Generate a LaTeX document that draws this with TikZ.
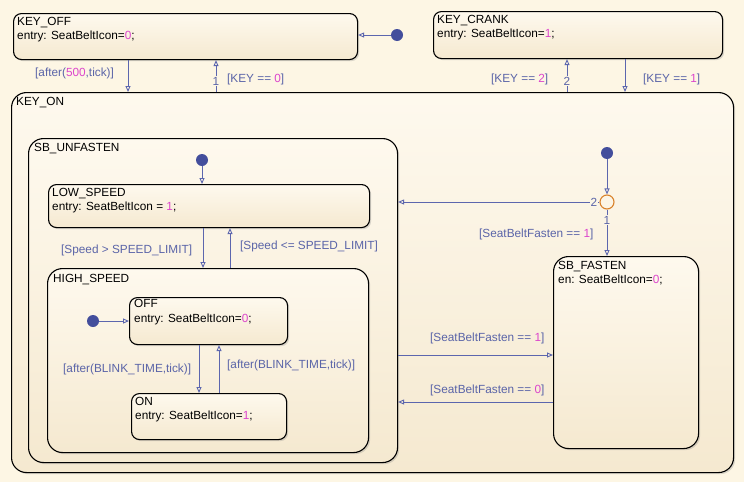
\documentclass[tikz,border=0pt]{standalone}
\usepackage{fontspec}
\setmainfont{Liberation Sans}
\usetikzlibrary{arrows.meta,shadows}
\definecolor{bg}{HTML}{FDF6E4}
\definecolor{stTop}{HTML}{FEF9EE}
\definecolor{stBot}{HTML}{F5E9D0}
\definecolor{trc}{HTML}{5C66AE}
\definecolor{lblc}{HTML}{5A64A8}
\definecolor{mag}{HTML}{DC45CC}
\definecolor{dotc}{HTML}{434E9C}
\definecolor{junc}{HTML}{D9822B}
\newcommand{\mg}[1]{\textcolor{mag}{#1}}
\begin{document}
\begin{tikzpicture}[x=1pt,y=-1pt,
  txt/.style={font=\fontsize{11.8}{14}\selectfont, inner sep=0pt, anchor=base west, text=black},
  lbl/.style={txt, text=lblc},
  prio/.style={font=\fontsize{11.8}{14}\selectfont, inner sep=0.6pt, text=lblc},
  st/.style={draw=black, line width=1.1pt, rounded corners=8pt, top color=stTop, bottom color=stBot,
    drop shadow={shadow xshift=1.6pt, shadow yshift=-1.6pt, opacity=0.28}, inner sep=0pt, anchor=north west},
  bigst/.style={st, rounded corners=15pt},
  tr/.style={draw=trc, line width=0.9pt, -{Triangle[open, length=6pt, width=5pt]}},
  initdot/.style={circle, fill=dotc, minimum size=12pt, inner sep=0pt},
  junction/.style={circle, draw=junc, line width=1.1pt, fill=stTop!75!stBot, minimum size=14pt, inner sep=0pt},
]
\useasboundingbox (0,0) rectangle (744,482);
\fill[bg] (0,0) rectangle (744,482);

% states
\node[st, minimum width=344pt, minimum height=46pt] (keyoff) at (13,13) {};
\node[st, minimum width=289pt, minimum height=47pt] (keycrank) at (433,11) {};
\node[bigst, minimum width=722pt, minimum height=380pt] (keyon) at (11,92) {};
\node[bigst, minimum width=369pt, minimum height=324pt] (sbu) at (28,138) {};
\node[st, minimum width=321pt, minimum height=43pt] (low) at (48,184) {};
\node[bigst, minimum width=321pt, minimum height=184pt] (high) at (47,268) {};
\node[st, minimum width=158pt, minimum height=47pt] (off) at (129,297) {};
\node[st, minimum width=155pt, minimum height=46pt] (on) at (131,393) {};
\node[bigst, minimum width=145pt, minimum height=192pt] (sbf) at (553,256) {};

% state texts
\node[txt] (t1) at (17,25) {KEY\_OFF};
\node[txt] (t2) at (17,39) {entry: SeatBeltIcon=\mg{0};};
\node[txt] (t3) at (437,23) {KEY\_CRANK};
\node[txt] (t4) at (437,37) {entry: SeatBeltIcon=\mg{1};};
\node[txt] (t5) at (16,105) {KEY\_ON};
\node[txt] (t6) at (34,151) {SB\_UNFASTEN};
\node[txt] (t7) at (52,196) {LOW\_SPEED};
\node[txt] (t8) at (52,210) {entry: SeatBeltIcon = \mg{1};};
\node[txt] (t9) at (53,282) {HIGH\_SPEED};
\node[txt] (t10) at (134,307) {OFF};
\node[txt] (t11) at (134,322) {entry: SeatBeltIcon=\mg{0};};
\node[txt] (t12) at (135,405) {ON};
\node[txt] (t13) at (135,419) {entry: SeatBeltIcon=\mg{1};};
\node[txt] (t14) at (558,269) {SB\_FASTEN};
\node[txt] (t15) at (558,283) {en: SeatBeltIcon=\mg{0};};

% initial dots and junction
\node[initdot] (d1) at (397,35) {};
\node[initdot] (d2) at (202,160) {};
\node[initdot] (d3) at (93,321) {};
\node[initdot] (d4) at (607,153) {};
\node[junction] (j) at (607,202) {};

% transitions
\draw[tr] (d1) -- (keyoff.east |- d1);
\draw[tr] (128,0 |- keyoff.south) -- (128,0 |- keyon.north);
\draw[tr] (216,0 |- keyon.north) -- (216,0 |- keyoff.south);
\draw[tr] (567,0 |- keyon.north) -- (567,0 |- keycrank.south);
\draw[tr] (625,0 |- keycrank.south) -- (625,0 |- keyon.north);
\draw[tr] (d2) -- (d2 |- low.north);
\draw[tr] (203,0 |- low.south) -- (203,0 |- high.north);
\draw[tr] (230,0 |- high.north) -- (230,0 |- low.south);
\draw[tr] (d3) -- (off.west |- d3);
\draw[tr] (199,0 |- off.south) -- (199,0 |- on.north);
\draw[tr] (219,0 |- on.north) -- (219,0 |- off.south);
\draw[tr] (d4) -- (j.north);
\draw[tr] (j.west) -- (sbu.east |- j);
\draw[tr] (j.south) -- (j |- sbf.north);
\draw[tr] (sbu.east |- 0,355) -- (sbf.west |- 0,355);
\draw[tr] (sbf.west |- 0,402) -- (sbu.east |- 0,402);

% priority numbers
\node[prio, fill=bg] (p1) at (216,81) {1};
\node[prio, fill=bg] (p2) at (567,81) {2};
\node[prio, fill=stTop!72!stBot] (p3) at (594,202) {2};
\node[prio, fill=stTop!70!stBot] (p4) at (607,220) {1};

% labels
\node[lbl] (l1) at (35,76) {[after(\mg{500},tick)]};
\node[lbl] (l2) at (227,82) {[KEY == \mg{0}]};
\node[lbl] (l3) at (491,82) {[KEY == \mg{2}]};
\node[lbl] (l4) at (643,82) {[KEY == \mg{1}]};
\node[lbl] (l5) at (61,253) {[Speed > SPEED\_LIMIT]};
\node[lbl] (l6) at (240,249) {[Speed <= SPEED\_LIMIT]};
\node[lbl] (l7) at (63,372) {[after(BLINK\_TIME,tick)]};
\node[lbl] (l8) at (227,368) {[after(BLINK\_TIME,tick)]};
\node[lbl] (l9) at (479,237) {[SeatBeltFasten == \mg{1}]};
\node[lbl] (l10) at (430,341) {[SeatBeltFasten == \mg{1}]};
\node[lbl] (l11) at (430,393) {[SeatBeltFasten == \mg{0}]};
\end{tikzpicture}
\end{document}
